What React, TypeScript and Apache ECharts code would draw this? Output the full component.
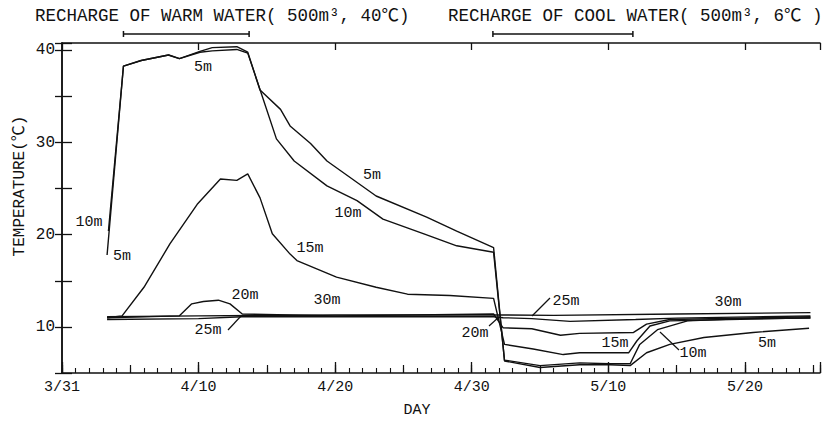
import React, { useEffect, useRef } from 'react';
import * as echarts from 'echarts';

// ---- data (day 0 = 3/31) ----
const xTickDays = [0, 10, 20, 30, 40, 50];
const xTickLabels = ['3/31', '4/10', '4/20', '4/30', '5/10', '5/20'];
const yTickLabels = [10, 20, 30, 40];

const depthNames = ['5m', '10m', '15m', '20m', '25m', '30m'];

const temp5m = [
  [3.3, 17.8], [4.5, 38.3], [5.8, 38.9], [7.8, 39.5], [8.6, 39.1], [10.1, 39.9], [11.0, 40.3], [12.8, 40.4],
  [13.6, 39.8], [14.5, 35.7], [16.0, 33.6], [16.7, 31.8], [18.2, 29.9], [19.4, 28.0], [23.0, 24.2], [26.7, 21.9],
  [28.9, 20.4], [31.6, 18.6], [32.4, 6.3], [35.0, 5.6], [37.9, 5.9], [40.1, 5.9], [41.6, 5.8], [42.8, 7.2],
  [44.5, 8.1], [47.0, 8.85], [50.6, 9.4], [54.7, 9.85],
];
const temp10m = [
  [3.4, 20.4], [4.5, 38.3], [5.8, 38.9], [7.8, 39.5], [8.6, 39.1], [10.1, 39.8], [11.0, 39.95], [12.8, 40.1],
  [13.6, 39.7], [14.6, 35.3], [15.7, 30.4], [17.0, 28.0], [19.4, 25.3], [21.6, 23.7], [23.5, 21.7], [26.5, 20.1],
  [28.9, 18.8], [31.6, 18.1], [32.4, 6.4], [35.0, 5.8], [37.9, 6.1], [40.1, 6.0], [41.6, 6.0], [42.3, 8.1],
  [43.6, 9.7], [45.8, 10.65], [50.0, 10.9], [54.8, 10.95],
];
const temp15m = [
  [3.3, 11.0], [4.4, 11.2], [6.0, 14.3], [7.9, 19.0], [9.9, 23.3], [11.6, 26.05], [12.8, 25.9], [13.6, 26.6],
  [14.5, 24.0], [15.4, 20.1], [16.7, 17.9], [17.2, 17.2], [20.1, 15.4], [23.0, 14.3], [25.3, 13.55], [28.4, 13.4],
  [31.6, 13.1], [32.4, 8.1], [34.5, 7.6], [36.7, 7.0], [37.9, 7.2], [41.5, 7.2], [42.1, 8.5], [43.05, 10.1],
  [44.5, 10.65], [54.8, 11.0],
];
const temp20m = [
  [3.3, 11.0], [8.6, 11.2], [9.5, 12.5], [10.35, 12.75], [11.45, 12.9], [12.3, 12.5], [13.2, 11.4], [20.0, 11.2],
  [31.6, 11.4], [32.3, 9.9], [34.4, 9.8], [36.5, 9.1], [37.9, 9.3], [41.85, 9.4], [42.8, 10.3], [44.5, 10.8],
  [54.8, 11.1],
];
const temp25m = [
  [3.3, 10.8], [10.0, 10.9], [13.2, 11.1], [20.0, 11.1], [31.6, 11.1], [32.3, 11.0], [34.4, 10.9], [37.2, 10.6],
  [42.0, 10.8], [45.0, 10.95], [54.8, 11.2],
];
const temp30m = [
  [3.3, 11.1], [10.0, 11.2], [20.0, 11.3], [31.6, 11.3], [36.0, 11.25], [45.0, 11.4], [54.8, 11.55],
];

const warmRecharge = [4.5, 13.7];
const coolRecharge = [31.55, 41.8];
const rechargeLevel = 41.78;

const warmTitle = 'RECHARGE OF WARM WATER( 500m³, 40℃)';
const coolTitle = 'RECHARGE OF COOL WATER( 500m³, 6℃ )';
const yName = 'TEMPERATURE(℃)';
const xName = 'DAY';

// ---- layout ----
const FONT = '"Liberation Mono", "Noto Sans CJK JP", monospace';
const INK = '#111';
const X_MIN = 0;
const X_MAX = 55.5;
const Y_MIN = 5;
const Y_MAX = 40.8;

const curveLabels: [string, number, number][] = [
  ['5m', 203, 67], ['10m', 89, 222], ['5m', 122, 256], ['5m', 372, 175], ['10m', 348, 213],
  ['15m', 310, 248], ['20m', 245, 295], ['30m', 327, 300], ['25m', 208, 330], ['20m', 475, 333],
  ['25m', 566, 301], ['30m', 728, 302], ['15m', 615, 343], ['10m', 693, 353], ['5m', 767, 343],
];
const leaders: [number, number, number, number][] = [
  [228, 330, 241, 316], [489, 326, 499, 317], [550, 298, 532, 316], [679, 350, 660, 332],
];

export default function App() {
  const ref = useRef<HTMLDivElement>(null);
  useEffect(() => {
    if (!ref.current) return;
    const chart = echarts.init(ref.current, undefined, { renderer: 'svg' });
    const series = [temp5m, temp10m, temp15m, temp20m, temp25m, temp30m];

    const baseX = {
      type: 'value' as const,
      min: X_MIN,
      max: X_MAX,
      splitLine: { show: false },
      gridIndex: 0,
    };
    const baseY = {
      type: 'value' as const,
      min: Y_MIN,
      max: Y_MAX,
      interval: 5,
      splitLine: { show: false },
    };

    const lineSeries: any[] = series.map((d, i) => ({
      name: depthNames[i],
      type: 'line',
      data: d,
      xAxisIndex: 0,
      yAxisIndex: 0,
      symbol: 'none',
      lineStyle: { color: INK, width: 1.4 },
      silent: true,
    }));
    [warmRecharge, coolRecharge].forEach((r, i) => {
      lineSeries.push({
        name: i === 0 ? 'warm' : 'cool',
        type: 'line',
        clip: false,
        xAxisIndex: 0,
        yAxisIndex: 0,
        data: [[r[0], rechargeLevel], [r[1], rechargeLevel]],
        symbol: 'rect',
        symbolSize: [1.5, 6],
        itemStyle: { color: INK },
        lineStyle: { color: INK, width: 1.4 },
        silent: true,
      });
    });

    const graphic: any[] = [
      {
        type: 'text', x: 35, y: 16,
        style: { text: warmTitle, font: `17.5px ${FONT}`, fill: INK, align: 'left', verticalAlign: 'middle' },
      },
      {
        type: 'text', x: 448, y: 16,
        style: { text: coolTitle, font: `17.5px ${FONT}`, fill: INK, align: 'left', verticalAlign: 'middle' },
      },
      {
        type: 'text', x: 20, y: 186, rotation: Math.PI / 2,
        style: { text: yName, font: `16px ${FONT}`, fill: INK, align: 'center', verticalAlign: 'middle' },
      },
      {
        type: 'text', x: 417, y: 410,
        style: { text: xName, font: `15px ${FONT}`, fill: INK, align: 'center', verticalAlign: 'middle' },
      },
    ];
    curveLabels.forEach(([t, x, y]) => {
      graphic.push({
        type: 'text', x, y,
        style: { text: t, font: `15px ${FONT}`, fill: INK, align: 'center', verticalAlign: 'middle' },
      });
    });
    leaders.forEach(([x1, y1, x2, y2]) => {
      graphic.push({
        type: 'line',
        shape: { x1, y1, x2, y2 },
        style: { stroke: INK, lineWidth: 1.2 },
      });
    });

    chart.setOption({
      animation: false,
      backgroundColor: '#fff',
      grid: { left: 62, right: 14, top: 43, bottom: 52, show: false },
      xAxis: [
        {
          ...baseX,
          position: 'bottom',
          interval: 10,
          axisLine: { show: true, lineStyle: { color: INK, width: 1.5 } },
          axisTick: { show: true, inside: true, length: 11, lineStyle: { color: INK, width: 1.3 } },
          axisLabel: {
            show: true,
            margin: 7,
            color: INK,
            fontFamily: FONT,
            fontSize: 15,
            formatter: (v: number) => {
              const idx = xTickDays.indexOf(Math.round(v * 1000) / 1000);
              return idx >= 0 ? xTickLabels[idx] : '';
            },
          },
        },
        {
          ...baseX,
          position: 'bottom',
          offset: 0,
          interval: 5,
          axisLine: { show: false },
          axisTick: { show: true, inside: true, length: 8, lineStyle: { color: INK, width: 1.2 } },
          axisLabel: { show: false },
        },
        {
          ...baseX,
          position: 'bottom',
          offset: 0,
          interval: 1,
          axisLine: { show: false },
          axisTick: { show: true, inside: true, length: 5, lineStyle: { color: INK, width: 1.1 } },
          axisLabel: { show: false },
        },
        {
          ...baseX,
          position: 'top',
          interval: 10,
          axisLine: { show: true, lineStyle: { color: INK, width: 1.5 } },
          axisTick: { show: true, inside: true, length: 7, lineStyle: { color: INK, width: 1.3 } },
          axisLabel: { show: false },
        },
      ],
      yAxis: [
        {
          ...baseY,
          position: 'left',
          axisLine: { show: true, lineStyle: { color: INK, width: 1.5 } },
          axisTick: { show: true, inside: true, length: 10, lineStyle: { color: INK, width: 1.3 } },
          axisLabel: {
            show: true,
            margin: 7,
            color: INK,
            fontFamily: FONT,
            fontSize: 16,
            formatter: (v: number) => (yTickLabels.indexOf(Math.round(v * 1000) / 1000) >= 0 ? String(v) : ''),
          },
        },
        {
          ...baseY,
          position: 'right',
          axisLine: { show: true, lineStyle: { color: INK, width: 1.5 } },
          axisTick: { show: true, inside: true, length: 7, lineStyle: { color: INK, width: 1.3 } },
          axisLabel: { show: false },
        },
      ],
      series: lineSeries,
      graphic,
    });
    return () => chart.dispose();
  }, []);

  return (
    <div
      ref={ref}
      style={{ position: 'fixed', left: 0, top: 0, width: 834, height: 425, background: '#fff' }}
    />
  );
}
